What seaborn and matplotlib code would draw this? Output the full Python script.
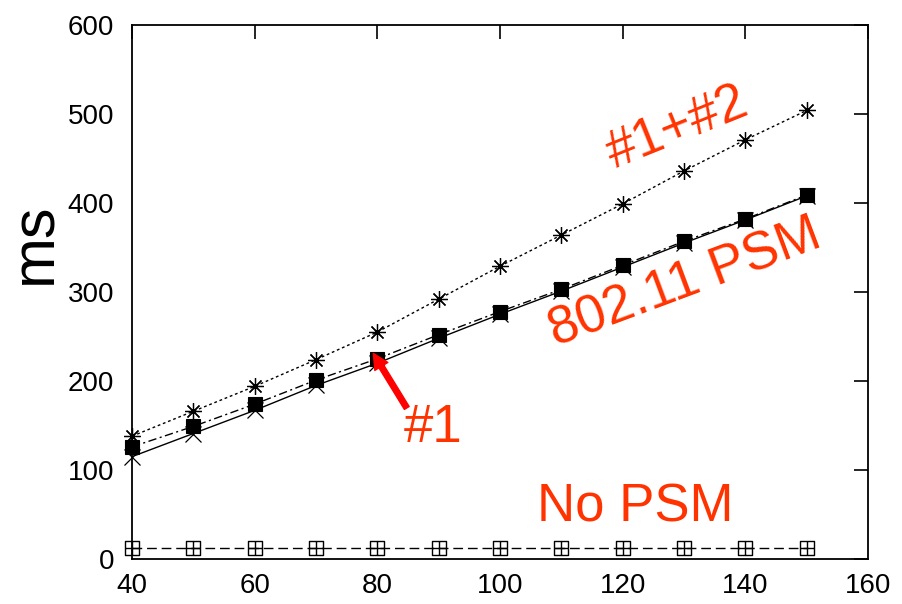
import matplotlib
matplotlib.use("Agg")
import matplotlib.pyplot as plt
import numpy as np
import pandas as pd
import seaborn as sns
from matplotlib.path import Path

# ---- data ----
x_vals = [40, 50, 60, 70, 80, 90, 100, 110, 120, 130, 140, 150]
one_plus_two = [138, 166, 194, 224, 255, 292, 329, 364, 399, 436, 471, 504]   # "#1+#2"  asterisk, dotted
psm_80211 = [126, 149, 174, 201, 225, 252, 278, 303, 330, 357, 382, 409]      # "802.11 PSM" filled squares, dash-dot
one_only = [115, 141, 167, 195, 220, 248, 275, 301, 328, 355, 381, 408]       # "#1" x markers, solid
no_psm = [12, 12, 12, 12, 12, 12, 12, 12, 12, 12, 12, 12]                     # "No PSM" boxed plus, long dash

x_ticks = [40, 60, 80, 100, 120, 140, 160]
y_ticks = [0, 100, 200, 300, 400, 500, 600]
y_label = "ms"
labels = ["#1+#2", "802.11 PSM", "#1", "No PSM"]

sns.set_style("white")
plt.rcParams['font.family'] = ['Liberation Sans', 'DejaVu Sans']
plt.rcParams['text.color'] = 'black'
plt.rcParams['axes.labelcolor'] = 'black'

fig = plt.figure(figsize=(9.03, 6.04), dpi=100)
ax = fig.add_axes([132 / 903, 1 - 559 / 604, 736 / 903, 534 / 604])

df = pd.DataFrame({"x": x_vals, "onetwo": one_plus_two, "psm": psm_80211,
                   "one": one_only, "nopsm": no_psm})

# boxed-plus marker
boxplus = Path([(-1, -1), (1, -1), (1, 1), (-1, 1), (-1, -1),
                (0, -1), (0, 1), (-1, 0), (1, 0)],
               [Path.MOVETO, Path.LINETO, Path.LINETO, Path.LINETO, Path.CLOSEPOLY,
                Path.MOVETO, Path.LINETO, Path.MOVETO, Path.LINETO])

common = dict(ax=ax, color="black", lw=1.0, estimator=None, legend=False, clip_on=False)

sns.lineplot(data=df, x="x", y="nopsm", marker=boxplus, markersize=10.5,
             markerfacecolor="none", markeredgecolor="black", markeredgewidth=1.0,
             linestyle=(0, (7, 3.5)), **common)
sns.lineplot(data=df, x="x", y="one", marker="x", markersize=11,
             markeredgecolor="black", markeredgewidth=0.9,
             linestyle="-", **common)
sns.lineplot(data=df, x="x", y="psm", marker="s", markersize=9.5,
             markerfacecolor="black", markeredgecolor="black", markeredgewidth=0.8,
             linestyle=(0, (6, 2.5, 1.5, 2.5)), **common)
sns.lineplot(data=df, x="x", y="onetwo", marker=(8, 2, 0), markersize=12,
             markeredgecolor="black", markeredgewidth=0.9,
             linestyle=(0, (2, 2)), **common)

ax.set_xlim(40, 160)
ax.set_ylim(0, 600)
ax.set_xticks(x_ticks)
ax.set_yticks(y_ticks)
ax.set_xlabel("")
ax.set_ylabel(y_label, fontsize=44, va="center", color="black")
ax.yaxis.set_label_coords((36 - 132) / 736, (559 - 243) / 534)

ax.tick_params(direction="in", length=10, width=1.2, top=True, right=True,
               labelsize=20, colors="black")
ax.tick_params(axis="y", pad=13)
ax.tick_params(axis="x", pad=10)
for sp in ax.spines.values():
    sp.set_color("black")
    sp.set_linewidth(1.3)
    sp.set_visible(True)

tcol = "#ff3300"
ax.text(128.9, 484, labels[0], color=tcol, fontsize=38, rotation=22,
        ha="center", va="center", rotation_mode="anchor")
ax.text(130.2, 310, labels[1], color=tcol, fontsize=38, rotation=20.5,
        ha="center", va="center", rotation_mode="anchor")
ax.text(89.1, 147, labels[2], color=tcol, fontsize=38, ha="center", va="center")
ax.text(122.0, 58, labels[3], color=tcol, fontsize=38, ha="center", va="center")

ax.annotate("", xy=(79.35, 231), xytext=(84.8, 169.7),
            arrowprops=dict(arrowstyle="simple,head_length=0.55,head_width=0.55,tail_width=0.2",
                            color="red", mutation_scale=20, shrinkA=0, shrinkB=0))

fig.savefig("out.png", dpi=100)
